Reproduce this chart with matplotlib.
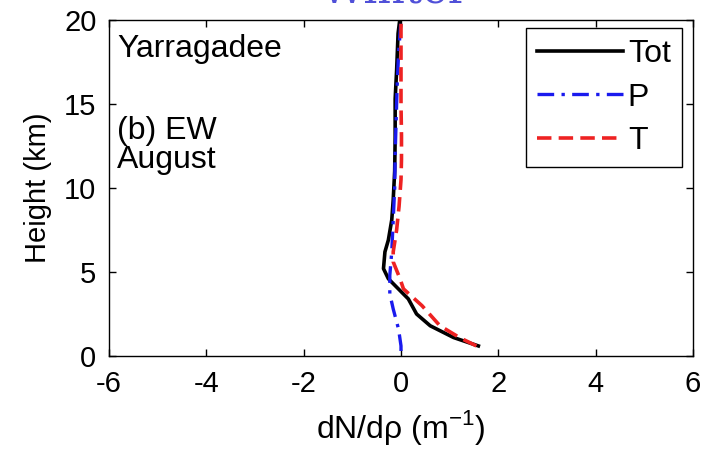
import matplotlib
matplotlib.use("Agg")
import matplotlib.pyplot as plt

# Data (height in km, dN/drho in m^-1)
tot_h = [0.6, 1.1, 1.8, 2.5, 3.4, 4.1, 4.6, 5.2, 6.2, 6.9, 8.1, 9.3, 11.0, 13.0, 15.3, 17.0, 19.2, 19.9]
tot_x = [1.59, 1.08, 0.60, 0.32, 0.15, -0.09, -0.26, -0.36, -0.33, -0.26, -0.19, -0.16, -0.13, -0.12, -0.12, -0.09, -0.06, -0.03]

p_h = [0.3, 0.6, 1.6, 2.8, 3.7, 4.8, 6.2, 8.1, 10.0, 12.0, 14.0, 16.0, 18.0, 20.0]
p_x = [0.0, 0.0, -0.05, -0.16, -0.23, -0.23, -0.19, -0.16, -0.13, -0.12, -0.10, -0.08, -0.05, 0.0]

t_h = [0.6, 1.1, 1.8, 3.0, 3.6, 4.0, 4.6, 5.6, 6.2, 7.5, 8.9, 10.5, 11.7, 13.1, 15.0, 17.0, 19.2, 20.0]
t_x = [1.55, 1.20, 0.80, 0.43, 0.20, 0.05, -0.02, -0.16, -0.16, -0.09, -0.04, 0.00, 0.01, 0.01, 0.00, 0.00, 0.00, 0.0]

series_labels = ["Tot", "P", "T"]
x_ticks = [-6, -4, -2, 0, 2, 4, 6]
y_ticks = [0, 5, 10, 15, 20]

plt.rcParams['font.family'] = ['Liberation Sans', 'DejaVu Sans']
plt.rcParams['axes.unicode_minus'] = False

fig = plt.figure(figsize=(7.1, 4.5), dpi=100)
ax = fig.add_axes([109/710, 1-356/450, (693-109)/710, (356-20)/450])

ax.plot(tot_x, tot_h, color='black', lw=2.6, ls='-', label=series_labels[0])
ax.plot(p_x, p_h, color='#1a1aee', lw=2.4, ls=(0, (5, 2.2, 1, 2.2)), label=series_labels[1])
ax.plot(t_x, t_h, color='#ee2222', lw=2.6, ls=(0, (4, 2)), label=series_labels[2])

ax.set_xlim(-6, 6)
ax.set_ylim(0, 20)
ax.set_xticks(x_ticks)
ax.set_yticks(y_ticks)
ax.tick_params(direction='in', top=True, right=True, length=5, width=1,
               labelsize=21)
ax.tick_params(axis='x', pad=10)
ax.tick_params(axis='y', pad=9)
for s in ax.spines.values():
    s.set_linewidth(1.0)

ax.set_xlabel(r'dN/d$\mathregular{\rho}$ (m$^{\mathregular{-1}}$)', fontsize=23, labelpad=7)
ax.set_ylabel('Height (km)', fontsize=21, labelpad=9)

ax.text(0.014, 0.89, 'Yarragadee', transform=ax.transAxes, fontsize=23, va='baseline')
ax.text(0.014, 0.645, '(b) EW', transform=ax.transAxes, fontsize=23, va='baseline')
ax.text(0.014, 0.56, 'August', transform=ax.transAxes, fontsize=23, va='baseline')

leg = ax.legend(loc='upper right', bbox_to_anchor=(0.981, 0.976), fontsize=23,
                frameon=True, fancybox=False, edgecolor='black', framealpha=1,
                handlelength=2.7, handletextpad=0.15, labelspacing=0.42,
                borderpad=0.35, borderaxespad=0)
leg.get_frame().set_linewidth(1.0)

fig.text(0.556, 1 - 3/450, 'Winter', fontsize=31, family='DejaVu Serif',
         color='#5050d8', ha='center', va='baseline')

fig.savefig('out.png', dpi=100)
